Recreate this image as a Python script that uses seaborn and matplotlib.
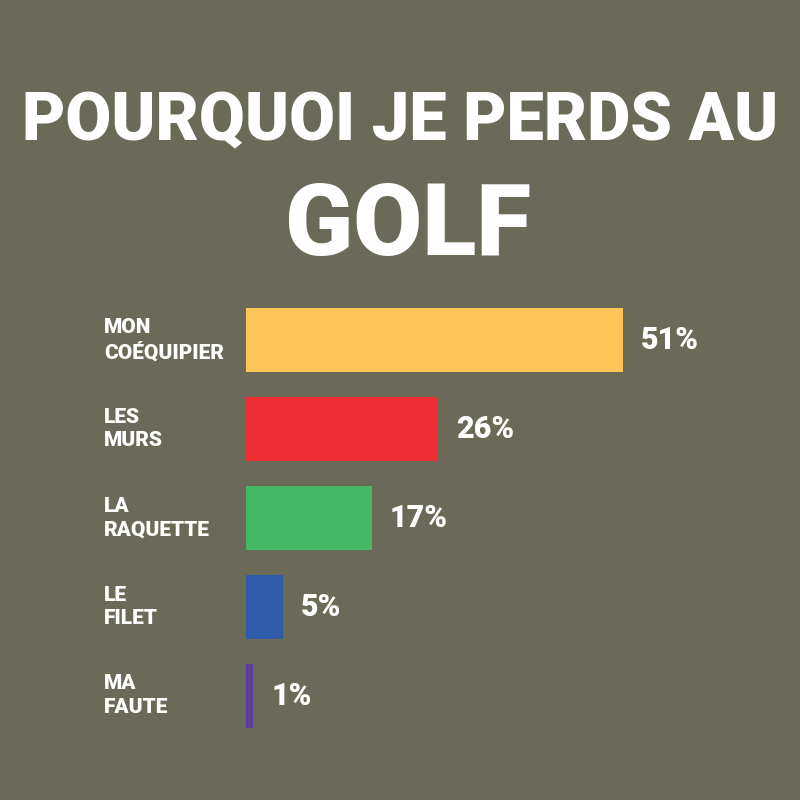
import pandas as pd
import seaborn as sns
import matplotlib.pyplot as plt
import matplotlib.transforms as mtransforms

##
# data

categories = ['MON\nCOÉQUIPIER', 'LES\nMURS', 'LA\nRAQUETTE', 'LE\nFILET', 'MA\nFAUTE']
values = [51, 26, 17, 5, 1]
value_labels = ['51%', '26%', '17%', '5%', '1%']
colors = ['#fdc55a', '#ee2c33', '#44b862', '#2f5ba8', '#5b3f9a']

bg = '#6b6a58'
font = ['Roboto', 'DejaVu Sans']

##
# plot

sns.set_theme(style='white')
plt.rcParams['font.family'] = font

df = pd.DataFrame({'category': categories, 'value': values})

fig = plt.figure(figsize=(8, 8), dpi=100, facecolor=bg)
ax = fig.add_axes([0.3075, 0.075, 0.6925, 0.555])
ax.set_facecolor(bg)

sns.barplot(data=df, x='value', y='category', hue='category',
            palette=colors, legend=False, width=0.72, ax=ax,
            saturation=1, edgecolor='none', linewidth=0)

ax.set_xlim(0, 75)
ax.set_ylim(4.5, -0.5)
ax.set_xlabel('')
ax.set_ylabel('')
ax.set_xticks([])
ax.set_yticks([])
sns.despine(ax=ax, left=True, bottom=True)

# value labels
for i, (v, lab) in enumerate(zip(values, value_labels)):
    ax.text(v + 2.4, i, lab, color='white', fontsize=22, fontweight='black',
            va='center', ha='left')

# category labels on the left
trans = mtransforms.blended_transform_factory(fig.transFigure, ax.transData)
for i, cat in enumerate(categories):
    ax.text(0.13, i, cat, transform=trans, color='white', fontsize=15,
            fontweight='black', va='center', ha='left', linespacing=1.3)

# title
fig.text(0.5, 0.825, 'POURQUOI JE PERDS AU', color='white', fontsize=48,
         fontweight='black', ha='center', va='baseline')
fig.text(0.51, 0.681, 'GOLF', color='white', fontsize=72,
         fontweight='black', ha='center', va='baseline')

fig.savefig('out.png', dpi=100, facecolor=bg)
